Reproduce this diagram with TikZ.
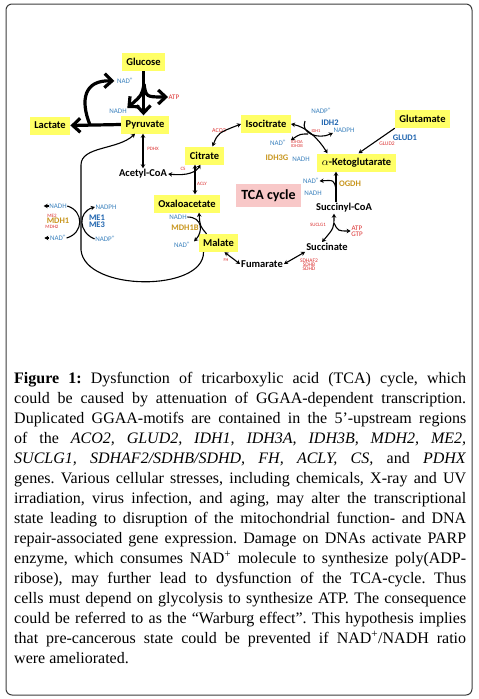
\documentclass[tikz,border=0pt]{standalone}
\usepackage{fontspec}
\setmainfont{Liberation Serif}
\newfontfamily\calib{Carlito}
\usetikzlibrary{arrows.meta}
\definecolor{metyellow}{RGB}{255,255,102}
\definecolor{tcapink}{RGB}{248,200,200}
\definecolor{cofblue}{RGB}{60,130,190}
\definecolor{enzblue}{RGB}{30,100,175}
\definecolor{enzred}{RGB}{220,50,50}
\definecolor{enzgold}{RGB}{200,150,30}
\definecolor{framegray}{RGB}{60,60,60}
\tikzset{
  met/.style={fill=metyellow,font=\calib\bfseries\fontsize{10.5}{12}\selectfont,inner xsep=4.5pt,minimum height=18pt},
  metplain/.style={font=\calib\bfseries\fontsize{10.5}{12}\selectfont,inner sep=1pt},
  cof/.style={text=cofblue,font=\calib\fontsize{7}{7}\selectfont,inner sep=.5pt},
  cofr/.style={text=enzred,font=\calib\fontsize{7}{6}\selectfont,inner sep=.5pt,align=center},
  enzr/.style={text=enzred,font=\calib\fontsize{#1}{#1}\selectfont,inner sep=.3pt,align=center},
  enzr/.default=5,
  enzb/.style={text=enzblue,font=\calib\bfseries\fontsize{8.5}{7}\selectfont,inner sep=.5pt,align=center},
  enzg/.style={text=enzgold,font=\calib\bfseries\fontsize{8.5}{9}\selectfont,inner sep=.5pt},
  rxn/.style={line width=1.1pt,-{Stealth[length=4pt,width=4.5pt]}},
  rxnboth/.style={line width=1.1pt,{Stealth[length=4pt,width=4.5pt]}-{Stealth[length=4pt,width=4.5pt]}},
  glyc/.style={line width=3.2pt,-{Straight Barb[length=7.5pt,width=14pt]}}
}
\begin{document}
\begin{tikzpicture}[x=1pt,y=-1pt,line join=round]
  \useasboundingbox (0,0) rectangle (479,699);
  \fill[white] (0,0) rectangle (479,699);
  \draw[framegray,line width=1pt,rounded corners=6pt] (6,4) rectangle (472,695);

  \node[met] (glucose) at (143.5,62) {Glucose};
  \node[met] (pyruvate) at (145,124.5) {Pyruvate};
  \node[met] (lactate) at (50,125.5) {Lactate};
  \node[metplain] (acetylcoa) at (143,174) {Acetyl-CoA};
  \node[met] (citrate) at (204.5,155.5) {Citrate};
  \node[met] (isocitrate) at (266,124) {Isocitrate};
  \node[met] (glutamate) at (422.5,119) {Glutamate};
  \node[met] (akg) at (356.5,162.5) {$\alpha$-Ketoglutarate};
  \node[met] (oxalo) at (187,203.5) {Oxaloacetate};
  \node[met] (malate) at (218.5,243) {Malate};
  \node[metplain] (succoa) at (344,208) {Succinyl-CoA};
  \node[metplain] (succinate) at (327,247) {Succinate};
  \node[metplain] (fumarate) at (262,264) {Fumarate};
  \node[fill=tcapink,font=\calib\bfseries\fontsize{14}{16}\selectfont,minimum width=65pt,minimum height=23pt] (tca) at (268.5,195.5) {TCA cycle};

  \node[cof] (nadg) at (125,81) {NAD\textsuperscript{+}};
  \node[cofr] (atpg) at (174,97) {ATP};
  \node[cof] (nadhg) at (118,111) {NADH};
  \node[enzr] (pdhx) at (153,149) {PDHX};
  \node[enzr=6] (aco2) at (219,131) {ACO2};
  \node[enzr] (cs) at (183,169) {CS};
  \node[enzr] (acly) at (202,184) {ACLY};
  \node[cof] (nadpi) at (321,111) {NADP\textsuperscript{+}};
  \node[enzb] (idh2) at (330,123) {IDH2};
  \node[cof] (nadphi) at (344,130) {NADPH};
  \node[enzr=4.5] (idh1) at (316,131) {IDH1};
  \node[cof] (nadi) at (278,143) {NAD\textsuperscript{+}};
  \node[enzr=4.5,font=\calib\fontsize{4.5}{4}\selectfont] (idh3ab) at (297,144) {IDH3A\\IDH3B};
  \node[enzg] (idh3g) at (277,158) {IDH3G};
  \node[cof] (nadhi) at (301,159) {NADH};
  \node[enzb] (glud1) at (405,138) {GLUD1};
  \node[enzr=5.5] (glud2) at (387,144) {GLUD2};
  \node[cof] (nadk) at (311,181) {NAD\textsuperscript{+}};
  \node[enzg] (ogdh) at (350,184) {OGDH};
  \node[cof] (nadhk) at (313,193) {NADH};
  \node[enzr] (suclg) at (318,225) {SUCLG1};
  \node[cofr] (atps) at (357,231) {ATP\\GTP};
  \node[enzr,font=\calib\fontsize{5.5}{4}\selectfont] (sdh) at (309,265) {SDHAF2\\SDHB\\SDHD};
  \node[enzr=4.5] (fh) at (226,260) {FH};
  \node[cof] (nadho) at (178,217) {NADH};
  \node[enzg] (mdh1b) at (185,228) {MDH1B};
  \node[cof] (nado) at (182,245) {NAD\textsuperscript{+}};
  \node[cof] (nadhm) at (58,206) {NADH};
  \node[enzr] (me2) at (52,216) {ME2};
  \node[enzg] (mdh1) at (58,221) {MDH1};
  \node[enzr] (mdh2) at (52,227) {MDH2};
  \node[cof] (nadm) at (58,238) {NAD\textsuperscript{+}};
  \node[cof] (nadphm) at (106,207) {NADPH};
  \node[enzb] (me13) at (97,221) {ME1\\ME3};
  \node[cof] (nadpm) at (105,239) {NADP\textsuperscript{+}};

  \coordinate (gsplit) at (144,84);
  \coordinate (lsplit) at (90,125);
  \draw[glyc] (glucose.south) -- (glucose.south |- pyruvate.north);
  \draw[glyc] (gsplit) .. controls (146,97) .. (atpg.west);
  \draw[glyc] (gsplit) .. controls (142,95) .. (nadhg.north east);
  \draw[glyc] (pyruvate.west) -- (lactate.east);
  \draw[glyc,shorten >=2pt] (lsplit) .. controls (80,100) and (84,80) .. (nadg.west);

  \coordinate (cvert) at (195,0);
  \draw[rxnboth] (pyruvate.south -| acetylcoa) -- (acetylcoa.north);
  \draw[rxnboth] (citrate.south -| cvert) -- (oxalo.north -| cvert);
  \draw[rxnboth] (acetylcoa.east) .. controls (188,176) and (196,172) .. ([xshift=-4pt]citrate.south);
  \draw[rxnboth] ([xshift=8pt]citrate.north) .. controls (218,133) .. (isocitrate.west);

  \coordinate (idhtop) at (305,121);
  \coordinate (idhmid) at (308,134);
  \draw[rxnboth] (isocitrate.east) .. controls (306,127) and (318,138) .. ([xshift=-29pt]akg.north);
  \draw[rxn] (idhtop) .. controls (300,133) and (318,140) .. (nadphi.south west);
  \draw[rxn,shorten >=5pt] (idhmid) .. controls (300,134) .. (nadi.east);
  \draw[rxn] (glutamate.south west) -- ([xshift=2pt]akg.north);

  \coordinate (kvert) at (336,0);
  \coordinate (ksplit) at (336,189);
  \draw[rxn] (succoa.north -| kvert) -- (akg.south -| kvert);
  \draw[rxn] (ksplit) .. controls (334,180) .. (nadk.east);

  \coordinate (ssplit) at (334,223);
  \draw[rxnboth] ([xshift=-10pt]succoa.south) .. controls (334,228) .. ([xshift=-5pt]succinate.north);
  \draw[rxn] (ssplit) .. controls (338,231) .. (atps.west);
  \draw[rxnboth] (succinate.south west) -- (fumarate.east);
  \draw[rxnboth] ([xshift=6pt]malate.south) -- (fumarate.west);

  \draw[rxn] ([xshift=-12pt]malate.north) .. controls (200,226) .. ([xshift=12pt]oxalo.south);
  \draw[rxn,shorten >=5pt] (nadho.east) .. controls (203,217) and (203,232) .. (nado.east);
  \draw[rxn] ([xshift=-15pt]malate.south) .. controls (204,292) and (85,292) .. (81,250) -- (81,165) .. controls (81,146) and (118,150) .. ([xshift=-10pt]pyruvate.south);

  \draw[line width=1.1pt] (nadhm.east) .. controls (84,211) and (84,233) .. (nadm.east);
  \draw[rxn] (nadpm.west) .. controls (78,232) and (78,212) .. (nadphm.west);
  \draw[rxn] (nadhm.west) -- ++(-5,0);
  \draw[rxn] (nadm.west) -- ++(-5,0);

  \node[anchor=north west,inner sep=0,text width=452pt,align=justify,font=\fontsize{16}{20}\selectfont] (caption) at (14,372.5) {\frenchspacing\tolerance=10000\hyphenpenalty=10000
    \textbf{Figure 1:} Dysfunction of tricarboxylic acid (TCA) cycle, which\linebreak
    could be caused by attenuation of GGAA-dependent transcription.\linebreak
    Duplicated GGAA-motifs are contained in the 5’-upstream regions\linebreak
    of the \textit{ACO2, GLUD2, IDH1, IDH3A, IDH3B, MDH2, ME2,}\linebreak
    \textit{SUCLG1, SDHAF2/SDHB/SDHD, FH, ACLY, CS,} and \textit{PDHX}\linebreak
    genes. Various cellular stresses, including chemicals, X-ray and UV\linebreak
    irradiation, virus infection, and aging, may alter the transcriptional\linebreak
    state leading to disruption of the mitochondrial function- and DNA\linebreak
    repair-associated gene expression. Damage on DNAs activate PARP\linebreak
    enzyme, which consumes NAD\textsuperscript{+} molecule to synthesize poly(ADP-\linebreak
    ribose), may further lead to dysfunction of the TCA-cycle. Thus\linebreak
    cells must depend on glycolysis to synthesize ATP. The consequence\linebreak
    could be referred to as the “Warburg effect”. This hypothesis implies\linebreak
    that pre-cancerous state could be prevented if NAD\textsuperscript{+}/NADH ratio\linebreak
    were ameliorated.};
\end{tikzpicture}
\end{document}
